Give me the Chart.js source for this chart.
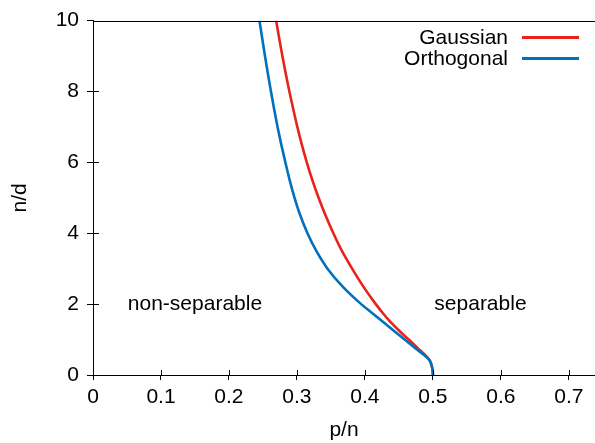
<!DOCTYPE html>
<html>
<head>
<meta charset="utf-8">
<script src="https://cdn.jsdelivr.net/npm/chart.js@4"></script>
<style>
  html, body { margin: 0; padding: 0; background: #fff; }
  #wrap { width: 595px; height: 443px; }
</style>
</head>
<body>
<div id="wrap"><canvas id="chart"></canvas></div>
<script>
// n/d values (vertical axis) and the p/n boundary for each ensemble
const nOverD      = [0, 0.1, 0.2, 0.3, 0.4, 0.5, 0.75, 1, 1.25, 1.5, 1.75, 2, 2.5, 3, 3.5, 4, 4.5, 5, 5.5, 6, 6.5, 7, 7.5, 8, 8.5, 9, 9.5, 10];
const gaussianP   = [0.5, 0.4998, 0.499, 0.4978, 0.4958, 0.4918, 0.4782, 0.4645, 0.4505, 0.4375, 0.4262, 0.416, 0.3975, 0.3812, 0.3662, 0.3536, 0.3422, 0.3319, 0.3227, 0.3145, 0.3072, 0.3006, 0.2946, 0.2889, 0.2836, 0.2786, 0.2739, 0.2694];
const orthogonalP = [0.5, 0.4998, 0.499, 0.4975, 0.4955, 0.491, 0.4745, 0.4585, 0.4425, 0.4265, 0.4105, 0.3945, 0.367, 0.345, 0.3285, 0.3155, 0.305, 0.2965, 0.2893, 0.283, 0.277, 0.2715, 0.2665, 0.2618, 0.2573, 0.253, 0.2489, 0.2449];

const seriesNames = ['Gaussian', 'Orthogonal'];
const xTicks = [0, 0.1, 0.2, 0.3, 0.4, 0.5, 0.6, 0.7];
const regionNames = ['non-separable', 'separable'];

const FONT = 'Liberation Sans, Arial, sans-serif';

function toPoints(pValues) {
    return pValues.map((p, i) => ({ x: p, y: nOverD[i] }));
}

// gnuplot-style extras: top border, ticks crossing the axes, region labels, legend
const decorations = {
    id: 'decorations',
    afterDraw(chart) {
        const { ctx, chartArea, scales } = chart;
        const xs = scales.x, ys = scales.y;
        const top = Math.round(chartArea.top) + 0.5;
        const bottom = Math.round(chartArea.bottom);
        const left = Math.round(chartArea.left);
        ctx.save();
        ctx.strokeStyle = '#000';
        ctx.lineWidth = 1;

        ctx.beginPath();
        ctx.moveTo(left, top);
        ctx.lineTo(chartArea.right, top);
        xs.ticks.forEach(t => {
            const px = Math.round(xs.getPixelForValue(t.value)) + 0.5;
            ctx.moveTo(px, bottom);
            ctx.lineTo(px, bottom - 5);
        });
        ys.ticks.forEach(t => {
            const py = Math.round(ys.getPixelForValue(t.value)) + 0.5;
            ctx.moveTo(left, py);
            ctx.lineTo(left + 6, py);
        });
        ctx.stroke();

        ctx.fillStyle = '#000';
        ctx.font = '21px ' + FONT;
        ctx.textAlign = 'center';
        ctx.textBaseline = 'middle';
        ctx.fillText(regionNames[0], xs.getPixelForValue(0.15), ys.getPixelForValue(2));
        ctx.fillText(regionNames[1], xs.getPixelForValue(0.57), ys.getPixelForValue(2));

        // legend: text right-aligned, sample line on the right
        ctx.textAlign = 'right';
        chart.data.datasets.forEach((ds, i) => {
            const rowY = chartArea.top + 17 + i * 21;
            ctx.fillText(ds.label, chartArea.right - 87, rowY + 1);
            ctx.strokeStyle = ds.borderColor;
            ctx.lineWidth = 3;
            ctx.beginPath();
            ctx.moveTo(chartArea.right - 73, rowY);
            ctx.lineTo(chartArea.right - 16, rowY);
            ctx.stroke();
        });
        ctx.restore();
    }
};

new Chart(document.getElementById('chart'), {
    type: 'line',
    data: {
        datasets: [
            {
                label: seriesNames[0],
                data: toPoints(gaussianP),
                borderColor: '#e8231b',
                borderWidth: 2.6,
                pointRadius: 0,
                cubicInterpolationMode: 'monotone',
                order: 2
            },
            {
                label: seriesNames[1],
                data: toPoints(orthogonalP),
                borderColor: '#0072bd',
                borderWidth: 2.6,
                pointRadius: 0,
                cubicInterpolationMode: 'monotone',
                order: 1
            }
        ]
    },
    options: {
        indexAxis: 'y',
        responsive: true,
        maintainAspectRatio: false,
        animation: false,
        layout: { padding: { top: 15, right: 0, left: 0, bottom: 0 } },
        plugins: {
            legend: { display: false },
            tooltip: { enabled: false }
        },
        scales: {
            x: {
                type: 'linear',
                position: 'bottom',
                min: 0,
                max: 0.7385,
                afterBuildTicks: scale => {
                    scale.ticks = xTicks.map(v => ({ value: v }));
                },
                afterFit: scale => { scale.height = 68; },
                grid: { drawOnChartArea: false, tickLength: 5, color: '#000' },
                border: { display: true, color: '#000', width: 1 },
                ticks: {
                    padding: 5,
                    color: '#000',
                    font: { family: FONT, size: 21 },
                    maxRotation: 0,
                    callback: v => String(Math.round(v * 10) / 10)
                },
                title: {
                    display: true,
                    text: 'p/n',
                    color: '#000',
                    font: { family: FONT, size: 21 },
                    padding: { top: 0, bottom: 0 }
                }
            },
            y: {
                type: 'linear',
                min: 0,
                max: 10,
                afterFit: scale => { scale.width = 93; },
                grid: { drawOnChartArea: false, tickLength: 6, color: '#000' },
                border: { display: true, color: '#000', width: 1 },
                ticks: {
                    stepSize: 2,
                    padding: 8,
                    color: '#000',
                    font: { family: FONT, size: 21 }
                },
                title: {
                    display: true,
                    text: 'n/d',
                    color: '#000',
                    font: { family: FONT, size: 21 },
                    padding: { top: 8, bottom: 0 }
                }
            }
        }
    },
    plugins: [decorations]
});
</script>
</body>
</html>
